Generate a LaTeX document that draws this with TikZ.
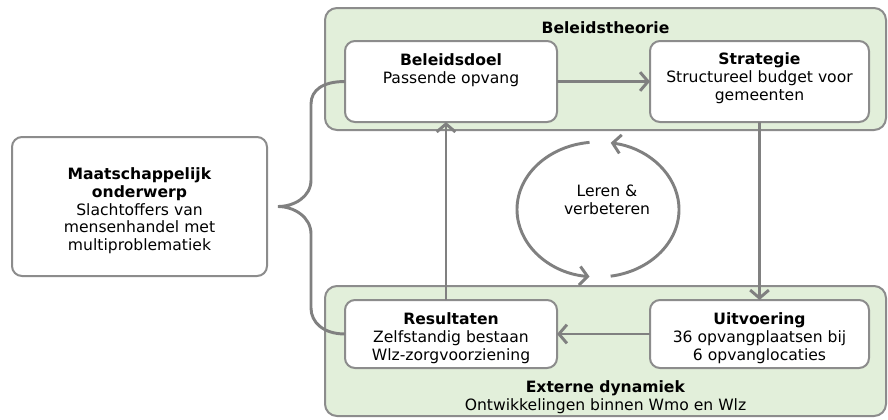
\documentclass[tikz,border=0pt]{standalone}
\usepackage{fontspec}
\setmainfont{DejaVu Sans}
\usetikzlibrary{arrows.meta,calc}
\definecolor{lineg}{HTML}{808080}
\definecolor{boxg}{HTML}{8C8C8C}
\definecolor{panelfill}{HTML}{E2EFDA}
\begin{document}
\begin{tikzpicture}[x=0.75pt,y=-0.75pt,
  every node/.style={font=\fontsize{11.7pt}{13.2pt}\selectfont, inner sep=0pt, outer sep=0pt},
  panel/.style={draw=boxg, line width=1.5pt, fill=panelfill, rounded corners=9pt, rectangle},
  box/.style={draw=boxg, line width=1.5pt, fill=white, rounded corners=7.5pt, rectangle},
  txt/.style={align=center, anchor=north},
  arr/.style={draw=lineg, line width=2.2pt, -{Straight Barb[length=6pt,width=14pt]}},
  conn/.style={draw=lineg, line width=2.2pt}]
\useasboundingbox (0,0) rectangle (888,419);
\fill[white] (0,0) rectangle (888,419);

% panels
\node[panel, minimum width=561*0.75pt, minimum height=122*0.75pt] (ptop) at (605.5,69) {};
\node[panel, minimum width=561*0.75pt, minimum height=130*0.75pt] (pbot) at (605.5,351) {};

% boxes
\node[box, minimum width=255*0.75pt, minimum height=139*0.75pt] (left) at (139.5,206.5) {};
\node[box, minimum width=212*0.75pt, minimum height=81*0.75pt] (bd) at (451,81.5) {};
\node[box, minimum width=219*0.75pt, minimum height=81*0.75pt] (st) at (759.5,81.5) {};
\node[box, minimum width=212*0.75pt, minimum height=68*0.75pt] (rs) at (451,334) {};
\node[box, minimum width=219*0.75pt, minimum height=68*0.75pt] (uv) at (759.5,334) {};

% texts
\node[anchor=base] (tbt) at (605.5,33) {\textbf{Beleidstheorie}};
\node[txt] (tbd) at (451,54) {\textbf{Beleidsdoel}\\Passende opvang};
\node[txt] (tst) at (759.5,53) {\textbf{Strategie}\\Structureel budget voor\\gemeenten};
\node[txt] (trs) at (451,313) {\textbf{Resultaten}\\Zelfstandig bestaan\\Wlz-zorgvoorziening};
\node[txt] (tuv) at (759.5,313) {\textbf{Uitvoering}\\36 opvangplaatsen bij\\6 opvanglocaties};
\node[txt] (tleft) at (139.5,168) {\textbf{Maatschappelijk}\\\textbf{onderwerp}\\Slachtoffers van\\mensenhandel met\\multiproblematiek};
\node[txt] (text) at (605.5,381) {\textbf{Externe dynamiek}\\Ontwikkelingen binnen Wmo en Wlz};
\node[txt] (tleren) at (607,185) {Leren \&\\verbeteren};

% connectors
\draw[arr] (bd) -- (st);
\draw[arr] (st) -- (uv);
\draw[arr] (uv) -- (rs);
\draw[arr] ([xshift=-3.75pt]rs.north) -- ([xshift=-3.75pt]bd.south);

% brace
\coordinate (tip) at ($(left.east)+(11,0)$);
\draw[conn] (bd.west) .. controls +(-22,0) and +(0,-14) .. (311,104) -- (311,180)
  .. controls +(0,17) and +(16,0) .. (tip)
  .. controls +(16,0) and +(0,-17) .. (311,234) -- (311,308)
  .. controls +(0,14) and +(-22,0) .. (rs.west);

% cycle
\coordinate (cc) at (598,209.5);
\draw[arr] ($(cc)+(264:81 and 67.5)$) arc[start angle=264, end angle=96, x radius=81, y radius=67.5];
\draw[arr] ($(cc)+(81:81 and 67.5)$) arc[start angle=81, end angle=-81, x radius=81, y radius=67.5];
\end{tikzpicture}
\end{document}
